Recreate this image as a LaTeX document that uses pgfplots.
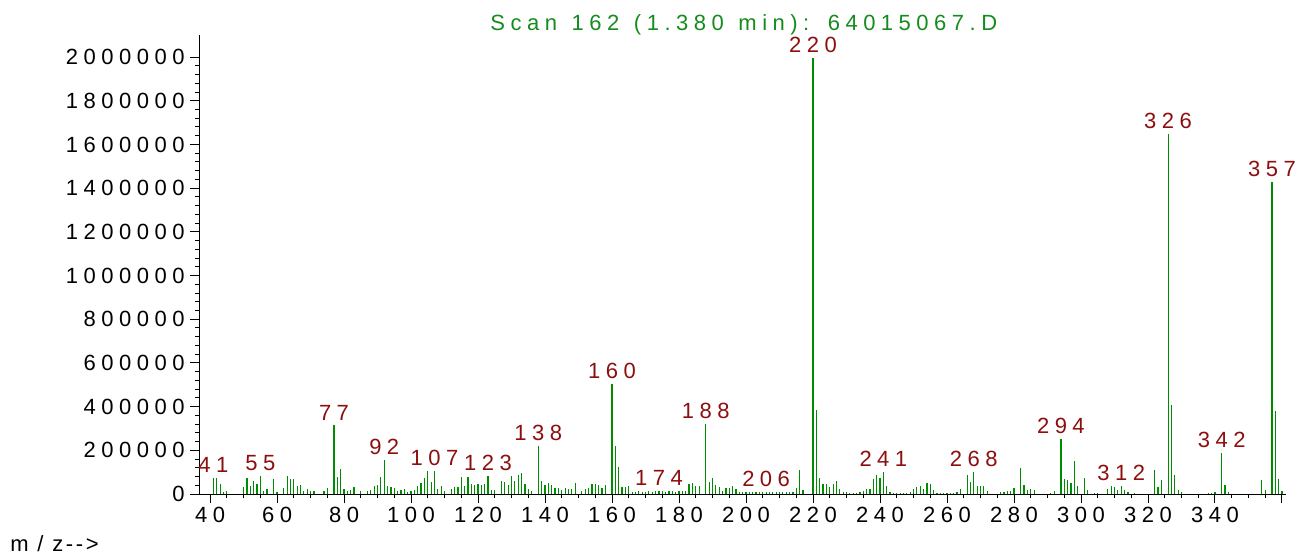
\documentclass[border=0pt]{standalone}
\usepackage{fontspec}
\setmainfont{Liberation Sans}[LetterSpace=25]
\usepackage{pgfplots}
\pgfplotsset{compat=1.18}
\definecolor{specgreen}{RGB}{0,140,0}
\definecolor{titlegreen}{RGB}{20,140,30}
\definecolor{peakred}{RGB}{140,15,15}

\begin{document}
\begin{tikzpicture}[font=\fontsize{11}{13}\selectfont,
    peak/.style={anchor=south, inner sep=0pt, yshift=2.5pt, text=peakred}]
\path[use as bounding box] (0,0) rectangle (647.5pt,279pt);
\begin{axis}[
    at={(99.5pt,32pt)}, anchor=south west,
    scale only axis, width=543.5pt, height=229.4pt,
    xmin=36.7, xmax=361.2,
    ymin=0, ymax=2100000,
    axis x line*=bottom, axis y line*=left,
    axis line style={-, line width=0.5pt},
    tick align=outside,
    major tick length=4.5pt, minor tick length=2pt,
    tick style={black, line width=0.5pt},
    xtick={40,60,80,100,120,140,160,180,200,220,240,260,280,300,320,340,360},
    xticklabels={40,60,80,100,120,140,160,180,200,220,240,260,280,300,320,340,},
    minor x tick num=3,
    ytick={0,200000,400000,600000,800000,1000000,1200000,1400000,1600000,1800000,2000000},
    yticklabels={0,200000,400000,600000,800000,1000000,1200000,1400000,1600000,1800000,2000000},
    minor y tick num=4,
    scaled y ticks=false,
    yticklabel style={inner sep=0pt, xshift=-2.5pt},
    xticklabel style={inner sep=0pt, yshift=-2pt},
    clip=false,
]
% ion abundances
\addplot[ycomb, draw=specgreen, line width=0.6pt, mark=none] coordinates {
(41,73000)(42,73000)(43,44000)(44,11000)(45,15000)
(50,30000)(51,73000)(52,35000)(53,61000)(54,46000)(55,81000)(56,12000)(57,23000)(59,69000)
(60,7000)(62,27000)(63,81000)(64,69000)(65,69000)(66,35000)(67,41000)(68,15000)(69,23000)
(70,15000)(71,15000)(74,15000)(75,27000)(77,314000)(78,76000)(79,114000)
(80,23000)(81,15000)(82,20000)(83,32000)(85,15000)(87,15000)(88,20000)(89,35000)
(90,40000)(91,76000)(92,154000)(93,38000)(94,32000)(95,27000)(96,15000)(97,20000)(98,21000)(99,8000)
(100,12000)(101,17000)(102,35000)(103,49000)(104,72000)(105,104000)(106,53000)(107,104000)(108,21000)(109,35000)
(110,15000)(112,24000)(113,30000)(114,30000)(115,76000)(116,35000)(117,78000)(118,44000)(119,43000)
(120,47000)(121,43000)(122,44000)(123,81000)(124,17000)(125,17000)(127,58000)(128,55000)(129,40000)
(130,81000)(131,58000)(132,87000)(133,96000)(134,47000)(135,24000)(136,15000)(138,218000)(139,58000)
(140,43000)(141,52000)(142,40000)(143,27000)(144,27000)(145,20000)(146,27000)(147,24000)(148,24000)(149,52000)
(151,15000)(152,24000)(153,27000)(154,47000)(155,47000)(156,40000)(157,29000)(158,40000)
(160,502000)(161,218000)(162,124000)(163,32000)(164,32000)(165,35000)(166,10000)(167,10000)(168,12000)(169,10000)
(170,10000)(171,12000)(172,10000)(173,12000)(174,12000)(175,12000)(176,10000)(177,12000)(178,12000)(179,10000)
(180,12000)(181,12000)(182,12000)(183,44000)(184,52000)(185,35000)(186,35000)(188,319000)(189,55000)
(190,75000)(191,40000)(192,32000)(193,12000)(194,27000)(195,27000)(196,35000)(197,24000)(198,7000)(199,7000)
(200,7000)(201,8000)(202,7000)(203,7000)(204,8000)(205,7000)(206,7000)(207,7000)(208,8000)(209,7000)
(210,7000)(211,7000)(212,8000)(213,7000)(214,7000)(215,27000)(216,111000)(217,20000)
(220,1995000)(221,383000)(222,73000)(223,44000)(224,44000)(225,32000)(226,44000)(227,58000)(228,23000)(229,11000)
(230,8000)(231,4000)(232,4000)(233,4000)(234,8000)(235,12000)(236,21000)(237,21000)(238,69000)(239,88000)
(240,73000)(241,99000)(242,35000)(243,8000)(244,4000)(245,4000)(246,4000)(247,4000)(248,4000)(249,11000)
(250,24000)(251,34000)(252,38000)(253,24000)(254,49000)(255,47000)(256,18000)(257,4000)(258,3000)(259,3000)
(260,3000)(261,3000)(262,3000)(263,8000)(264,21000)(266,88000)(267,56000)(268,99000)(269,38000)
(270,35000)(271,38000)(272,12000)(276,8000)(277,8000)(278,15000)(279,15000)
(280,28000)(282,119000)(283,40000)(284,20000)(285,23000)(286,18000)
(291,6000)(292,12000)(294,250000)(295,67000)(296,63000)(297,50000)(298,150000)(299,35000)
(301,75000)(302,17000)(304,5000)(305,5000)(308,24000)(309,35000)
(310,30000)(311,17000)(312,35000)(313,17000)(314,11000)(316,5000)
(322,111000)(323,32000)(324,63000)(326,1648000)(327,406000)(328,85000)(329,17000)
(330,8000)(338,6000)(339,6000)(340,11000)(342,186000)(343,43000)(344,8000)
(354,63000)(355,20000)(357,1428000)(358,378000)(359,67000)(360,12000)
};
\node[peak] at (axis cs:41,73000) {41};
\node[peak] at (axis cs:55,81000) {55};
\node[peak] at (axis cs:77,314000) {77};
\node[peak] at (axis cs:92,154000) {92};
\node[peak] at (axis cs:107,104000) {107};
\node[peak] at (axis cs:123,81000) {123};
\node[peak] at (axis cs:138,218000) {138};
\node[peak] at (axis cs:160,502000) {160};
\node[peak] at (axis cs:174,12000) {174};
\node[peak] at (axis cs:188,319000) {188};
\node[peak] at (axis cs:206,7000) {206};
\node[peak] at (axis cs:220,1995000) {220};
\node[peak] at (axis cs:241,99000) {241};
\node[peak] at (axis cs:268,99000) {268};
\node[peak] at (axis cs:294,250000) {294};
\node[peak] at (axis cs:312,35000) {312};
\node[peak] at (axis cs:326,1648000) {326};
\node[peak] at (axis cs:342,186000) {342};
\node[peak] at (axis cs:357,1428000) {357};
\end{axis}
\node[anchor=base, inner sep=0pt, text=titlegreen] at (371.9pt,263.5pt)
  {Scan\hspace{1.5pt} 162\hspace{1.5pt} (1.380\hspace{1.5pt} min):\hspace{1.5pt} 64015067.D};
\node[anchor=base west, inner sep=0pt] at (5pt,3.5pt) {\addfontfeature{LetterSpace=12}m / z-{}-{}>};
\end{tikzpicture}
\end{document}
